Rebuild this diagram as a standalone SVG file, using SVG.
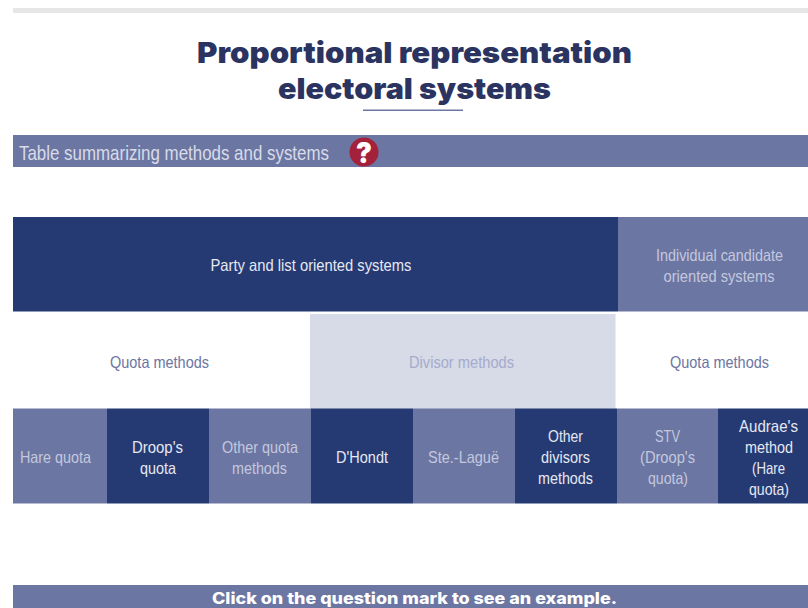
<svg xmlns="http://www.w3.org/2000/svg" width="808" height="608" viewBox="0 0 808 608">
<style>
.d{fill:#253a73}.m{fill:#6c76a3}
text{font-family:"Liberation Sans",Arial,sans-serif;text-anchor:middle}
.t{font-size:16.500px}
.w{fill:#e6e8f2}.g{fill:#c3c8de}.b{fill:#6c76a3}
.h{font-family:Inter,"Liberation Sans",sans-serif;font-weight:900;font-size:29px;fill:#2b3461}
</style>
<rect x="13" y="8" width="795" height="5" fill="#e6e6e6"/>
<g id="title">
<text class="h" x="414.500" y="63" textLength="435" lengthAdjust="spacingAndGlyphs">Proportional representation</text>
<text class="h" x="414.500" y="98.500" textLength="273" lengthAdjust="spacingAndGlyphs">electoral systems</text>
<rect x="363" y="109.500" width="100" height="1.500" fill="#6c76a3"/>
</g>
<g id="header">
<rect class="m" x="13" y="135" width="795" height="32"/>
<text x="174" y="159.500" textLength="310" lengthAdjust="spacingAndGlyphs" style="font-size:21px;fill:#d8dbe8">Table summarizing methods and systems</text>
<circle cx="364" cy="152" r="14.500" fill="#a3213a"/>
<text x="364" y="163" textLength="16" lengthAdjust="spacingAndGlyphs" style="font-family:Inter,'Liberation Sans',sans-serif;font-weight:900;font-size:29px;fill:#fff">?</text>
</g>
<g id="party"><rect class="d" x="13" y="217" width="605" height="94.500"/><text class="t w" x="311" y="271" textLength="201" lengthAdjust="spacingAndGlyphs">Party and list oriented systems</text></g>
<g id="individual"><rect class="m" x="618" y="217" width="190" height="94.500"/><text class="t g" x="719.500" y="261" textLength="127" lengthAdjust="spacingAndGlyphs">Individual candidate</text><text class="t g" x="719" y="282" textLength="111" lengthAdjust="spacingAndGlyphs">oriented systems</text></g>
<g id="quota1"><text class="t b" x="159.500" y="368" textLength="99" lengthAdjust="spacingAndGlyphs">Quota methods</text></g>
<g id="divisor"><rect x="310" y="314" width="305.500" height="95" fill="#d7dae7"/><text class="t" x="461.500" y="368" fill="#a5abcc" textLength="105" lengthAdjust="spacingAndGlyphs">Divisor methods</text></g>
<g id="quota2"><text class="t b" x="719.500" y="368" textLength="99" lengthAdjust="spacingAndGlyphs">Quota methods</text></g>
<g id="hare"><rect class="m" x="13" y="408.500" width="94" height="95"/><text class="t g" x="55.500" y="463" textLength="71" lengthAdjust="spacingAndGlyphs">Hare quota</text></g>
<g id="droop"><rect class="d" x="107" y="408.500" width="102" height="95"/><text class="t w" x="157.500" y="453" textLength="51" lengthAdjust="spacingAndGlyphs">Droop's</text><text class="t w" x="158" y="474" textLength="36" lengthAdjust="spacingAndGlyphs">quota</text></g>
<g id="other-quota"><rect class="m" x="209" y="408.500" width="102" height="95"/><text class="t g" x="260" y="453" textLength="76" lengthAdjust="spacingAndGlyphs">Other quota</text><text class="t g" x="259.500" y="474" textLength="55" lengthAdjust="spacingAndGlyphs">methods</text></g>
<g id="dhondt"><rect class="d" x="311" y="408.500" width="102" height="95"/><text class="t w" x="362" y="463" textLength="52" lengthAdjust="spacingAndGlyphs">D'Hondt</text></g>
<g id="lague"><rect class="m" x="413" y="408.500" width="102" height="95"/><text class="t g" x="463.500" y="463" textLength="71" lengthAdjust="spacingAndGlyphs">Ste.-Laguë</text></g>
<g id="other-divisors"><rect class="d" x="515" y="408.500" width="102" height="95"/><text class="t w" x="565.500" y="442" textLength="35" lengthAdjust="spacingAndGlyphs">Other</text><text class="t w" x="565.500" y="463" textLength="49" lengthAdjust="spacingAndGlyphs">divisors</text><text class="t w" x="565.500" y="484" textLength="55" lengthAdjust="spacingAndGlyphs">methods</text></g>
<g id="stv"><rect class="m" x="617" y="408.500" width="101" height="95"/><text class="t g" x="667.500" y="442" textLength="25" lengthAdjust="spacingAndGlyphs">STV</text><text class="t g" x="667.500" y="463" textLength="55" lengthAdjust="spacingAndGlyphs">(Droop's</text><text class="t g" x="668" y="484" textLength="40" lengthAdjust="spacingAndGlyphs">quota)</text></g>
<g id="audrae"><rect class="d" x="718" y="408.500" width="90" height="95"/><text class="t w" x="768.500" y="432" textLength="59" lengthAdjust="spacingAndGlyphs">Audrae's</text><text class="t w" x="769" y="453" textLength="48" lengthAdjust="spacingAndGlyphs">method</text><text class="t w" x="768.500" y="474" textLength="33" lengthAdjust="spacingAndGlyphs">(Hare</text><text class="t w" x="769" y="495" textLength="40" lengthAdjust="spacingAndGlyphs">quota)</text></g>
<g id="footer"><rect class="m" x="13" y="585" width="795" height="23"/><text x="414.500" y="604" textLength="405" lengthAdjust="spacingAndGlyphs" style="font-family:Inter,'Liberation Sans',sans-serif;font-weight:800;font-size:15.500px;fill:#fff">Click on the question mark to see an example.</text></g>
<g id="connectors"/>
</svg>
